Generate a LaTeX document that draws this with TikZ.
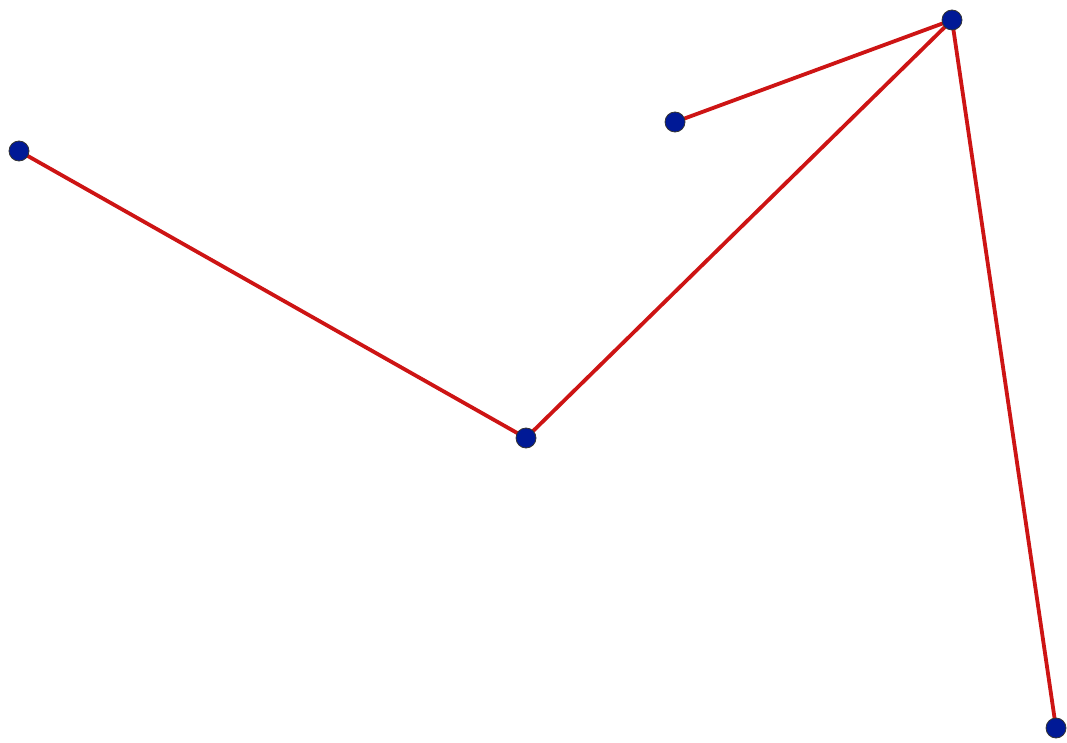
\documentclass[tikz,border=0pt]{standalone}
\usetikzlibrary{backgrounds}
\begin{document}
\begin{tikzpicture}[x=1pt,y=-1pt,
  pt/.style={circle,fill={rgb,255:red,0;green,25;blue,150},draw=black!80,line width=0.8pt,inner sep=0pt,minimum size=20pt},
  seg/.style={draw={rgb,255:red,205;green,20;blue,20},line width=3.8pt}]
\useasboundingbox (0,0) rectangle (1067,743);
\node[pt] (a) at (19,151) {};
\node[pt] (b) at (526,438) {};
\node[pt] (c) at (952,20) {};
\node[pt] (d) at (675,122) {};
\node[pt] (e) at (1056,728) {};
\begin{scope}[on background layer]
\draw[seg] (a.center) -- (b.center);
\draw[seg] (b.center) -- (c.center);
\draw[seg] (d.center) -- (c.center);
\draw[seg] (c.center) -- (e.center);
\end{scope}
\end{tikzpicture}
\end{document}
